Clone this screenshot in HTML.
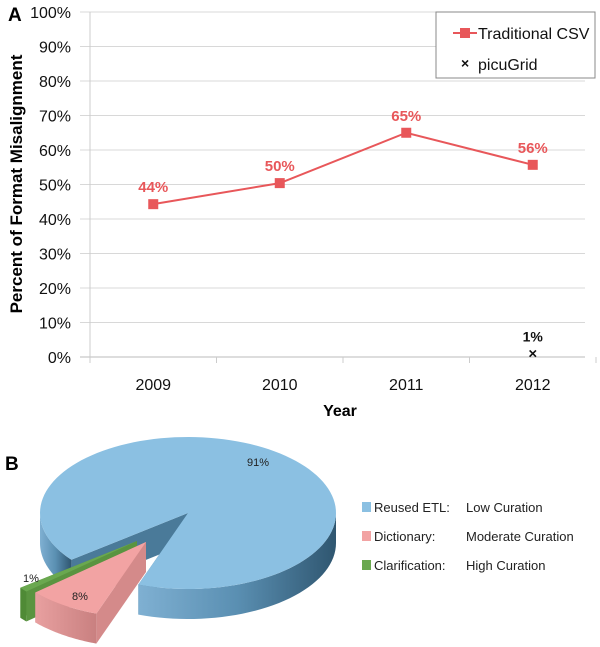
<!DOCTYPE html>
<html><head><meta charset="utf-8"><style>
body{margin:0;background:#fff;}
svg{display:block;font-family:"Liberation Sans",sans-serif;}
</style></head><body>
<svg id="s" width="600" height="647" viewBox="0 0 600 647">
<defs>
<linearGradient id="bside" x1="0" x2="1" y1="0" y2="0"><stop offset="0" stop-color="#7fb0d2"/><stop offset="0.5" stop-color="#5a8fb2"/><stop offset="1" stop-color="#2f5670"/></linearGradient>
<linearGradient id="pside" x1="0" x2="1"><stop offset="0" stop-color="#e8a0a0"/><stop offset="1" stop-color="#c98080"/></linearGradient>
</defs>
<g id="chartA"></g>
<g id="chartB"></g>
</svg>
<script>
const categories=["2009","2010","2011","2012"];
const csvValues=[44.3,50.4,65,55.7];
const csvLabels=["44%","50%","65%","56%"];
const picuValues=[null,null,null,1];
const picuLabels=[null,null,null,"1%"];
const yTicks=[0,10,20,30,40,50,60,70,80,90,100];
const pieNames=["Reused ETL:","Dictionary:","Clarification:"];
const pieDesc=["Low Curation","Moderate Curation","High Curation"];
const pieValues=[91,8,1];
const pieLabels=["91%","8%","1%"];

const NS="http://www.w3.org/2000/svg";
function mk(t,a,p,txt){const e=document.createElementNS(NS,t);for(const k in a)e.setAttribute(k,a[k]);if(txt!=null)e.textContent=txt;p.appendChild(e);return e;}
const A=document.getElementById('chartA');
const x0=90,bw=126.5,yb=357,yt=12;
const xs=i=>x0+bw*(i+0.5);
const ys=v=>yb-(v/100)*(yb-yt);
mk('text',{x:8,y:21,'font-size':19,'font-weight':'bold',},A,'A');
yTicks.forEach(t=>{
 const g=mk('line',{x1:80,x2:585,y1:ys(t),y2:ys(t),stroke:t===0?'#bbb':'#d8d8d8','stroke-width':1},A);
 
 const l=mk('text',{x:71,y:ys(t)+6,'text-anchor':'end','font-size':16,fill:'#111'},A,t+'%');
 
});
mk('line',{x1:x0,x2:x0,y1:yt,y2:yb+6,stroke:'#ccc'},A);
for(let i=0;i<=categories.length;i++){mk('line',{x1:x0+bw*i,x2:x0+bw*i,y1:yb,y2:yb+6,stroke:'#ccc'},A);}
categories.forEach((c,i)=>{const t=mk('text',{x:xs(i),y:390,'text-anchor':'middle','font-size':16,fill:'#111'},A,c);
 });
mk('text',{x:340,y:416,'text-anchor':'middle','font-size':16,'font-weight':'bold',},A,'Year');
mk('text',{x:0,y:0,transform:'translate(22,184) rotate(-90)','text-anchor':'middle','font-size':17,'font-weight':'bold',},A,'Percent of Format Misalignment');
const pts=csvValues.map((v,i)=>xs(i)+','+ys(v)).join(' ');
mk('polyline',{points:pts,fill:'none',stroke:'#e8575a','stroke-width':2,},A);
csvValues.forEach((v,i)=>{
 const r=mk('rect',{x:xs(i)-5,y:ys(v)-5,width:10,height:10,fill:'#e8575a'},A);
 
 const t=mk('text',{x:xs(i),y:ys(v)-12,'text-anchor':'middle','font-size':15,'font-weight':'bold',fill:'#e8575a'},A,csvLabels[i]);
 
});
picuValues.forEach((v,i)=>{if(v==null)return;
 const t=mk('text',{x:xs(i),y:ys(v)+5,'text-anchor':'middle','font-size':15,'font-weight':'bold',fill:'#111'},A,'×');
 
 const l=mk('text',{x:xs(i),y:ys(v)-12,'text-anchor':'middle','font-size':14,'font-weight':'bold',fill:'#111'},A,picuLabels[i]);
 
});
const lg=mk('g',{},A);
mk('rect',{x:436,y:12,width:159,height:66,fill:'#fff',stroke:'#888','stroke-width':1},lg);
mk('line',{x1:453,x2:477,y1:33,y2:33,stroke:'#e8575a','stroke-width':2},lg);
mk('rect',{x:460,y:28,width:10,height:10,fill:'#e8575a'},lg);
mk('text',{x:478,y:39,'font-size':16,fill:'#111',},lg,'Traditional CSV');
mk('text',{x:461,y:68,'font-size':14,'font-weight':'bold',fill:'#111'},lg,'×');
mk('text',{x:478,y:70,'font-size':16,fill:'#111',},lg,'picuGrid');

// Pie
const B=document.getElementById('chartB');
mk('text',{x:5,y:470,'font-size':19,'font-weight':'bold',},B,'B');
const cx=188,cy=513,rx=148,ry=76,dep=30,start=142;
const tops=['#8bc0e2','#f2a3a3','#6aa84f'],sides=['url(#bside)','url(#pside)','#4f8a36'],walls=['#4a7a99','#d48a8a','#5a9440'];
const offs=[[0,0],[-42,29],[-51,28]];
const total=pieValues.reduce((a,b)=>a+b,0);
const P=(a,o,d)=>[cx+o[0]+rx*Math.cos(a*Math.PI/180),cy+o[1]+d+ry*Math.sin(a*Math.PI/180)];
function arc(a1,a2,o,d,steps){let s=[];for(let k=0;k<=steps;k++){const a=a1+(a2-a1)*k/steps;s.push(P(a,o,d));}return s;}
let ang=start;const slices=pieValues.map(v=>{const a1=ang;ang+=v/total*360;return [a1,ang];});
const order=[0,2,1];
order.forEach(i=>{
 const [a1,a2]=slices[i],o=offs[i];const g=mk('g',{},B);
 
 const ax=cx+o[0],ay=cy+o[1];
 [a1,a2].forEach(a=>{const p=P(a,o,0);
  mk('polygon',{points:`${ax},${ay} ${p[0]},${p[1]} ${p[0]},${p[1]+dep} ${ax},${ay+dep}`,fill:walls[i]},g);});
 for(let base=0;base<=720;base+=360){
  const lo=Math.max(a1,base),hi=Math.min(a2,base+180);
  if(hi>lo){const topA=arc(lo,hi,o,0,40),botA=arc(hi,lo,o,dep,40);
   mk('polygon',{points:topA.concat(botA).map(p=>p.join(',')).join(' '),fill:sides[i]},g);}
 }
 const top=arc(a1,a2,o,0,120);
 mk('polygon',{points:[[ax,ay]].concat(top).map(p=>p.join(',')).join(' '),fill:tops[i]},g);
});
const lp=[[258,466],[80,600],[31,582]];
pieLabels.forEach((l,i)=>{const t=mk('text',{x:lp[i][0],y:lp[i][1],'text-anchor':'middle','font-size':11,fill:'#222'},B,l);
 });
pieNames.forEach((n,i)=>{const y=507+i*29;
 const g=mk('g',{},B);
 mk('rect',{x:362,y:y-5,width:9,height:10,fill:tops[i]},g);
 mk('text',{x:374,y:y+5,'font-size':13,fill:'#222'},g,n);
 mk('text',{x:466,y:y+5,'font-size':13,fill:'#222'},g,pieDesc[i]);});
</script>
</body></html>
